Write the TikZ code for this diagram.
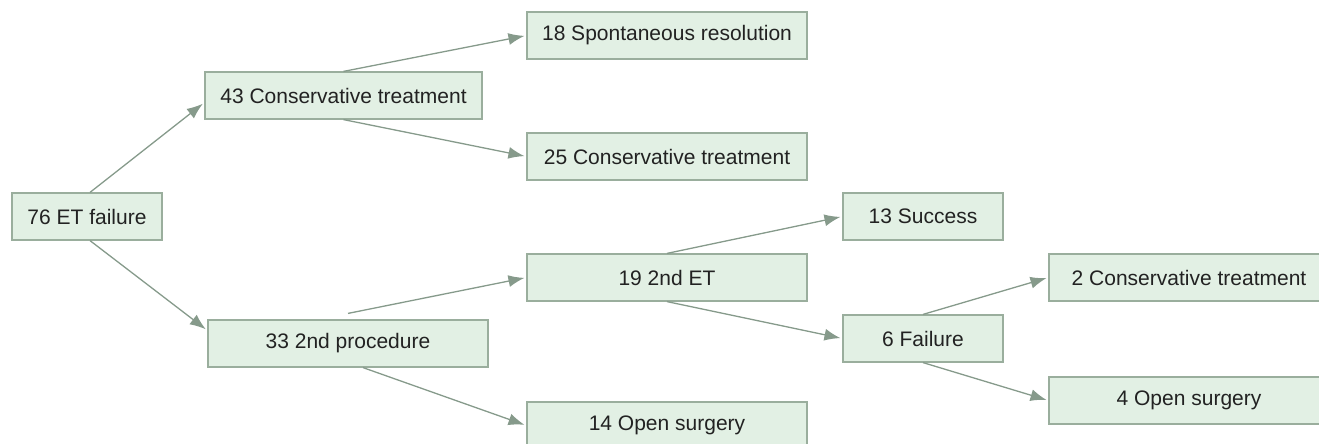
\documentclass[tikz,border=0pt]{standalone}
\usepackage{fontspec}
\setmainfont{Liberation Sans}
\usetikzlibrary{arrows.meta}
\definecolor{boxfill}{HTML}{E2F0E4}
\definecolor{boxline}{HTML}{9AAE9D}
\definecolor{linkcol}{HTML}{869A8B}
\definecolor{txt}{HTML}{222222}
\tikzset{
  box/.style={draw=boxline, fill=boxfill, line width=1.2pt, text=txt,
    minimum height=47pt, inner sep=0pt,
    font=\fontsize{21pt}{25pt}\selectfont},
  link/.style={draw=linkcol, line width=1.3pt, shorten >=2pt,
    -{Latex[length=16pt,width=12pt]}}
}

\begin{document}
\begin{tikzpicture}[x=1pt, y=-1pt]
        \useasboundingbox (0,0) rectangle (1319,444);
        \clip (0,0) rectangle (1319,444);

        \node[box, minimum width=150pt] (etfail) at (87,216.5) {76 ET failure};
        \node[box, minimum width=277pt] (cons) at (343.5,95.5) {43 Conservative treatment};
        \node[box, minimum width=280pt] (proc) at (348,343.5) {33 2nd procedure};
        \node[box, minimum width=280pt] (spont) at (667,35.5) {18 Spontaneous resolution};
        \node[box, minimum width=280pt] (consb) at (667,156.5) {25 Conservative treatment};
        \node[box, minimum width=280pt] (secet) at (667,277.5) {19 2nd ET};
        \node[box, minimum width=280pt] (opena) at (667,425.5) {14 Open surgery};
        \node[box, minimum width=160pt] (succ) at (923,216.5) {13 Success};
        \node[box, minimum width=160pt] (fail) at (923,338.5) {6 Failure};
        \node[box, minimum width=280pt] (consc) at (1189,277.5) {2 Conservative treatment};
        \node[box, minimum width=280pt] (openb) at (1189,400.5) {4 Open surgery};

        \draw[link] ([xshift=3pt]etfail.north) -- ([yshift=-7pt]cons.west);
        \draw[link] ([xshift=3pt]etfail.south) -- ([yshift=13pt]proc.west);
        \draw[link] ([yshift=6pt]proc.north) -- (secet.west);
        \draw[link] ([xshift=15pt]proc.south) -- (opena.west);

        \foreach \src/\dst in {cons.north/spont, cons.south/consb,
                               secet.north/succ, secet.south/fail,
                               fail.north/consc, fail.south/openb} {
          \draw[link] (\src) -- (\dst.west);
        }
      \end{tikzpicture}
\end{document}
